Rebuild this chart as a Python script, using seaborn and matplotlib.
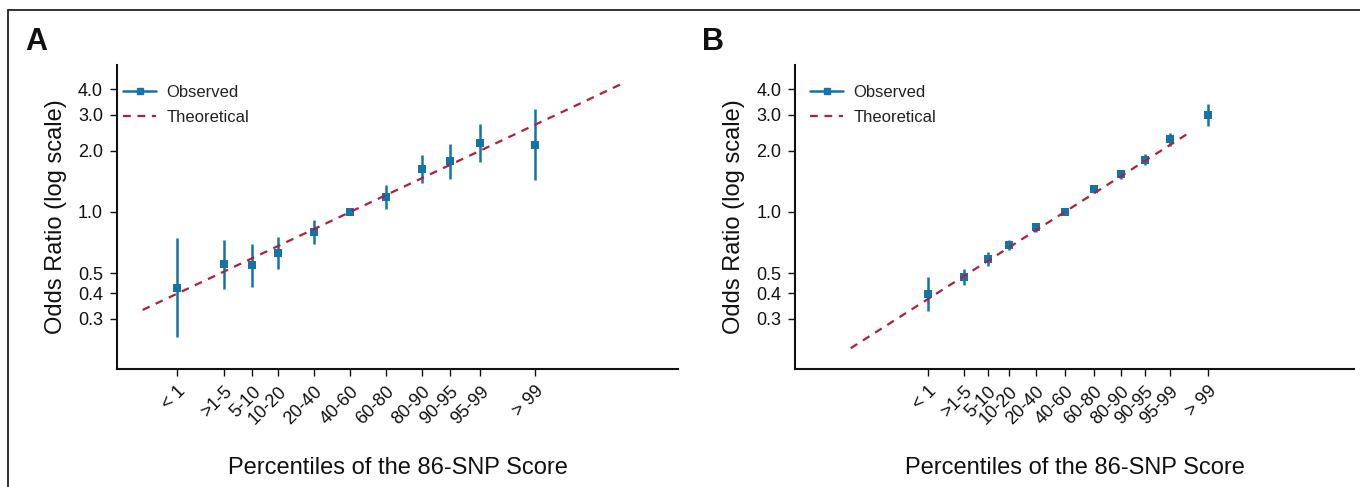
"""Odds ratio by percentile of the 86-SNP score, two panels (A and B).

Observed odds ratios with 95% CIs against the theoretical line,
log-scaled y axis.
"""

import logging

import matplotlib
matplotlib.use('Agg')
import matplotlib.pyplot as plt
from matplotlib.lines import Line2D
from matplotlib.ticker import FixedLocator, NullLocator, FixedFormatter
import pandas as pd
import seaborn as sns

logging.basicConfig(level=logging.INFO, format='%(levelname)s - %(message)s')
logger = logging.getLogger(__name__)

# Percentile categories (same for both panels)
categories = ['< 1', '>1-5', '5-10', '10-20', '20-40', '40-60',
              '60-80', '80-90', '90-95', '95-99', '> 99']

# Panel A: score position (SD units), odds ratio and 95% CI
a_pos = [-2.49, -1.82, -1.41, -1.04, -0.52, 0.0, 0.52, 1.04, 1.44, 1.88, 2.67]
a_or = [0.426, 0.558, 0.550, 0.632, 0.801, 1.0, 1.188, 1.624, 1.783, 2.184, 2.136]
a_lo = [0.243, 0.421, 0.431, 0.528, 0.695, 1.0, 1.035, 1.382, 1.450, 1.757, 1.440]
a_hi = [0.743, 0.729, 0.700, 0.754, 0.917, 1.0, 1.356, 1.895, 2.152, 2.697, 3.180]
a_theo_pos = [-2.99, 3.91]
a_theo_or = [0.331, 4.23]

# Panel B
b_pos = [-2.51, -1.85, -1.41, -1.02, -0.53, 0.0, 0.53, 1.03, 1.47, 1.92, 2.62]
b_or = [0.396, 0.480, 0.588, 0.686, 0.841, 1.0, 1.292, 1.531, 1.800, 2.270, 2.990]
b_lo = [0.327, 0.438, 0.543, 0.651, 0.801, 1.0, 1.235, 1.458, 1.695, 2.110, 2.640]
b_hi = [0.482, 0.527, 0.636, 0.726, 0.887, 1.0, 1.352, 1.608, 1.913, 2.450, 3.380]
b_theo_pos = [-3.92, 2.275]
b_theo_or = [0.215, 2.44]

y_ticks = [0.3, 0.4, 0.5, 1.0, 2.0, 3.0, 4.0]
y_tick_labels = ['0.3', '0.4', '0.5', '1.0', '2.0', '3.0', '4.0']

BLUE = '#1473a8'
RED = '#b01f3b'
DASH = (0, (3.5, 3))
INK = '#111111'


def draw_panel(ax, pos, odds, lo, hi, theo_pos, theo_or, xlim, legend_x):
    """Draw one odds-ratio panel."""
    obs = pd.DataFrame({'pos': pos, 'or': odds, 'lo': lo, 'hi': hi,
                        'cat': categories})
    theo = pd.DataFrame({'pos': theo_pos, 'or': theo_or})

    ax.vlines(obs['pos'], obs['lo'], obs['hi'], color=BLUE, lw=1.8, zorder=2)
    sns.scatterplot(data=obs, x='pos', y='or', ax=ax, marker='s', s=26,
                    color=BLUE, linewidth=0, zorder=2.5, legend=False)
    sns.lineplot(data=theo, x='pos', y='or', ax=ax, color=RED, lw=1.6,
                 linestyle=DASH, zorder=3, legend=False)

    ax.set_yscale('log')
    ax.set_ylim(0.17, 5.25)
    ax.set_xlim(*xlim)
    ax.yaxis.set_major_locator(FixedLocator(y_ticks))
    ax.yaxis.set_major_formatter(FixedFormatter(y_tick_labels))
    ax.yaxis.set_minor_locator(NullLocator())

    ax.set_xticks(pos)
    ax.set_xticklabels(categories, rotation=45, ha='right',
                       rotation_mode='anchor')
    ax.tick_params(axis='both', length=5, width=1, labelsize=13,
                   color=INK, labelcolor=INK, pad=5)

    sns.despine(ax=ax)
    for side in ('left', 'bottom'):
        ax.spines[side].set_linewidth(1.5)
        ax.spines[side].set_color(INK)

    ax.set_ylabel('Odds Ratio (log scale)', fontsize=17, labelpad=8,
                  color=INK)
    ax.set_xlabel('Percentiles of the 86-SNP Score', fontsize=17, color=INK)
    ax.xaxis.set_label_coords(0.5, -0.29)

    handles = [
        Line2D([], [], color=BLUE, lw=1.8, marker='s', markersize=5),
        Line2D([], [], color=RED, lw=1.6, linestyle=DASH),
    ]
    ax.legend(handles, ['Observed', 'Theoretical'], loc='upper left',
              bbox_to_anchor=(legend_x, 0.935), frameon=False, fontsize=12,
              borderpad=0, borderaxespad=0, handlelength=2.0,
              handletextpad=0.6, labelspacing=0.62, labelcolor='#222222')


def main():
    sns.set_theme(style='ticks')
    plt.rcParams['font.family'] = ['Liberation Sans', 'DejaVu Sans']

    fig = plt.figure(figsize=(13.6, 4.87), dpi=100)
    ax_a = fig.add_axes([0.0860, 0.2423, 0.4125, 0.6242])
    ax_b = fig.add_axes([0.5846, 0.2423, 0.4110, 0.6242])

    draw_panel(ax_a, a_pos, a_or, a_lo, a_hi, a_theo_pos, a_theo_or,
               (-3.36, 4.73), 0.011)
    draw_panel(ax_b, b_pos, b_or, b_lo, b_hi, b_theo_pos, b_theo_or,
               (-4.94, 5.30), 0.027)

    fig.text(25 / 1360, 1 - 50 / 487, 'A', fontsize=22, fontweight='bold',
             va='baseline', color=INK)
    fig.text(702 / 1360, 1 - 50 / 487, 'B', fontsize=22, fontweight='bold',
             va='baseline', color=INK)

    # thin frame along top and left edge
    top_y = 1 - 10 / 487
    left_x = 8 / 1360
    fig.add_artist(Line2D([left_x, 1], [top_y, top_y], color='#222222',
                          lw=1.3, transform=fig.transFigure))
    fig.add_artist(Line2D([left_x, left_x], [0, top_y], color='#222222',
                          lw=1.3, transform=fig.transFigure))

    fig.savefig('out.png', dpi=100)
    logger.info('Saved out.png')


if __name__ == '__main__':
    main()
